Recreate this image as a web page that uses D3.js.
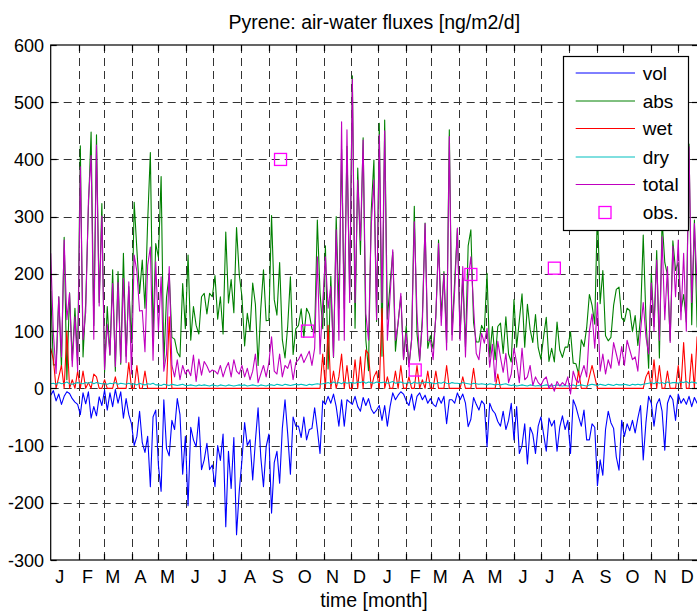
<!DOCTYPE html>
<html>
<head>
<meta charset="utf-8">
<script src="https://cdn.jsdelivr.net/npm/d3@7"></script>
<style>
  body { margin: 0; background: #fff; }
  text { font-family: "Liberation Sans", Arial, Helvetica, sans-serif; fill: #000; }
</style>
</head>
<body>
<svg id="chart" width="697" height="612"></svg>
<script>
// ---- data (one sample every 3 days over two years, starting on day 1) ----
const sampleStep = 3;

const monthLabels = ["J","F","M","A","M","J","J","A","S","O","N","D",
                     "J","F","M","A","M","J","J","A","S","O","N","D"];
const monthStarts = [1,32,60,91,121,152,182,213,244,274,305,335,
                     366,397,425,456,486,517,547,578,609,639,670,700];
const yTicks = [-300,-200,-100,0,100,200,300,400,500,600];

const vol = [
  -12,-4,-22,-10,-28,-14,-6,-9,-18,-24,-28,
  -46,-8,-27,-6,-52,-32,-48,-15,-30,
  -3,-38,-8,-32,-2,-26,-6,-52,-18,-46,
  -62,-100,-84,-40,-95,-112,-84,-172,-50,-38,
  -135,-180,-20,-105,-118,-56,-72,-18,-46,-150,-84,
  -205,-68,-90,-102,-50,-142,-125,-96,-142,-134,
  -172,-100,-126,-80,-242,-110,-175,-86,-256,-180,
  -126,-60,-100,-90,-160,-92,-34,-120,-172,-102,-80,
  -218,-130,-110,-166,-70,-20,-80,-150,-50,-66,
  -66,-86,-50,-90,-72,-70,-34,-72,-114,-22,
  -28,-14,-26,-10,-32,-66,-20,-66,-20,-24,
  -28,-14,-32,-40,-16,-30,-18,-36,-44,-38,
  -30,-56,-30,-66,-32,-8,-20,-12,-6,-10,
  -22,-30,-10,-38,-14,-8,-20,-12,-26,
  -18,-28,-32,-16,-26,-14,-62,-20,-20,-26,
  -8,-20,-10,-26,-67,-54,-16,-28,-38,-22,
  -28,-102,-26,-38,-44,-58,-66,-40,-72,-56,
  -26,-90,-32,-114,-100,-62,-132,-68,-80,-114,
  -66,-50,-80,-110,-52,-66,-56,-110,-68,-48,
  -72,-56,-114,-20,-32,-50,-66,-38,-90,-90,-62,
  -68,-170,-125,-152,-72,-40,-60,-70,-120,-143,
  -56,-84,-62,-74,-56,-78,-52,-30,-125,-60,
  -14,-26,-66,-28,-18,-40,-108,-26,-12,-20,
  -56,-10,-26,-18,-28,-14,-32,-16,-26,-20,-30,-18
];

const abs = [
  170,41,41,160,35,264,15,167,49,140,48,
  424,55,150,315,448,110,443,150,323,
  28,143,58,207,30,204,42,236,56,178,
  80,325,242,166,224,140,291,412,90,253,
  229,370,43,159,201,89,86,63,55,183,104,
  233,84,143,110,95,160,166,130,166,160,
  197,121,160,95,273,149,190,132,281,199,
  161,74,131,100,184,147,40,139,207,118,119,
  302,155,128,220,85,53,109,195,59,104,
  110,139,89,140,130,104,97,294,167,104,
  249,34,196,54,300,140,418,139,423,164,
  546,105,385,234,438,85,31,309,399,117,
  463,56,469,121,182,238,65,116,161,51,
  109,38,86,318,96,48,125,289,70,
  92,69,124,259,127,204,80,452,94,189,
  279,96,193,72,249,277,115,81,81,110,
  100,201,55,108,50,108,114,61,125,60,
  46,155,72,119,165,72,147,103,80,129,
  71,51,90,124,47,70,46,116,67,54,
  72,72,99,44,43,25,85,73,106,164,145,
  112,315,148,206,92,83,89,145,173,177,
  123,117,140,136,99,127,75,124,268,122,
  35,200,108,241,53,295,220,198,83,258,
  206,220,135,164,116,427,111,294,107,129,220,99
];

const wet = [
  70,50,0,20,40,0,100,0,15,0,30,
  0,30,0,10,0,25,20,0,0,
  15,0,0,0,20,0,0,0,0,45,
  0,0,40,0,0,30,0,0,0,0,
  0,0,0,0,125,0,0,0,0,0,0,
  0,0,0,0,0,0,0,0,0,0,
  0,0,0,0,0,0,0,0,0,0,
  0,0,0,0,0,0,0,0,0,0,0,
  0,0,0,0,0,0,0,0,0,0,
  0,0,0,0,0,0,0,0,0,60,
  0,110,0,30,0,20,60,0,40,0,
  0,50,0,55,0,67,60,0,20,30,
  0,140,0,20,0,0,30,0,40,0,
  0,20,0,0,40,0,15,0,30,
  0,0,30,0,0,0,40,0,0,0,
  0,0,20,0,0,0,35,0,0,0,
  0,0,0,0,0,25,0,0,0,0,
  0,0,0,0,0,0,0,0,0,0,
  0,0,0,0,0,0,0,0,0,0,
  0,0,0,0,0,30,0,0,0,20,40,
  20,0,0,0,0,0,0,0,0,0,
  0,0,0,0,0,0,0,0,0,20,
  30,0,50,0,40,0,0,30,0,0,
  0,40,0,80,0,0,60,0,90,0,0,0
];

const dry = [
  8,9,7,10,8,9,11,8,7,9,10,
  9,8,10,9,11,8,10,9,8,
  8,7,9,8,10,7,9,8,7,9,
  7,8,6,9,7,6,8,7,9,6,
  6,5,7,6,5,7,6,5,6,7,5,
  5,6,5,4,6,5,6,5,4,6,
  5,4,6,5,4,6,5,4,5,6,
  5,6,4,5,6,5,4,6,5,4,6,
  6,5,7,6,5,7,6,5,6,7,
  6,7,6,5,7,6,7,8,7,8,
  9,10,8,11,9,10,8,11,9,10,
  10,9,11,10,12,9,11,10,9,11,
  10,10,11,9,10,12,9,10,11,9,
  9,10,8,11,9,10,9,11,10,
  10,9,8,10,9,11,9,8,10,9,
  9,8,10,9,8,7,9,8,7,8,
  7,6,8,7,6,7,6,7,8,6,
  5,6,4,5,6,5,4,6,5,4,
  5,4,5,6,5,4,5,6,5,4,
  5,4,5,6,4,5,6,5,4,6,7,
  6,5,7,6,5,7,6,5,7,6,
  6,7,6,5,7,6,7,6,7,8,
  9,10,8,11,9,10,8,11,9,10,
  10,9,11,10,12,9,11,10,9,11,10,9
];

const total = [
  236,96,26,160,55,259,120,166,38,125,30,
  387,85,133,328,407,86,425,144,301,
  33,112,59,183,38,185,45,192,45,186,
  25,233,204,135,136,64,215,247,49,221,
  100,195,30,60,213,40,20,50,15,40,25,
  33,22,58,12,51,23,47,39,28,32,
  30,25,40,20,35,45,20,50,30,25,
  40,20,35,15,30,60,10,25,40,20,45,
  90,30,25,60,20,40,35,50,15,45,
  50,60,45,55,65,40,70,230,60,150,
  230,140,178,55,277,84,466,84,452,150,
  540,150,364,259,434,131,84,283,364,120,
  443,150,450,84,160,242,84,114,166,50,
  96,38,84,291,131,50,114,288,84,
  84,50,130,253,110,201,67,440,84,172,
  280,84,213,55,190,230,143,61,50,96,
  79,105,37,77,12,82,54,28,61,10,
  25,70,45,10,70,15,20,40,5,20,
  10,5,15,20,0,8,-5,12,4,10,
  5,20,-10,30,15,10,25,40,20,100,130,
  70,150,30,60,25,50,35,80,60,40,
  73,40,84,67,50,55,30,100,150,90,
  60,184,100,224,84,265,120,213,80,248,
  160,259,120,236,100,422,150,288,180,120,200,90
];

// measured fluxes
const obsDay = [257, 287, 407, 469, 562];
const obsValue = [400, 100, 32, 199, 210];

const seriesNames = ["vol","abs","wet","dry","total"];
const seriesColors = ["#0000ff","#008000","#ff0000","#00bfbf","#bf00bf"];
const obsColor = "#ff00ff";

// ---- layout ----
const svg = d3.select("#chart");
const plotLeft = 50.7, plotRight = 698, plotTop = 45, plotBottom = 560;

const x = d3.scaleLinear().domain([1, 722]).range([plotLeft, plotRight]);
const y = d3.scaleLinear().domain([-300, 600]).range([plotBottom, plotTop]);

svg.append("defs").append("clipPath").attr("id", "plotClip")
  .append("rect").attr("x", plotLeft).attr("y", plotTop)
  .attr("width", plotRight - plotLeft).attr("height", plotBottom - plotTop);

// grid
const grid = svg.append("g").attr("stroke", "#333").attr("stroke-width", 1)
  .attr("stroke-dasharray", "8,5").attr("fill", "none");
grid.selectAll("line.h").data(yTicks.filter(v => v > -300 && v < 600)).join("line")
  .attr("class", "h")
  .attr("x1", plotLeft).attr("x2", plotRight)
  .attr("y1", d => Math.round(y(d)) + 0.5).attr("y2", d => Math.round(y(d)) + 0.5);
grid.selectAll("line.v").data(monthStarts.filter(d => d > 1)).join("line")
  .attr("class", "v")
  .attr("y1", plotTop).attr("y2", plotBottom)
  .attr("x1", d => Math.round(x(d)) + 0.5).attr("x2", d => Math.round(x(d)) + 0.5);

// series
const plot = svg.append("g").attr("clip-path", "url(#plotClip)");
const seriesData = [vol, abs, wet, dry, total];
const line = d3.line().x((d, i) => x(1 + i * sampleStep)).y(d => y(d));
seriesData.forEach((arr, k) => {
  plot.append("path").datum(arr)
    .attr("d", line)
    .attr("fill", "none")
    .attr("stroke", seriesColors[k])
    .attr("stroke-width", 1.1)
    .attr("stroke-linejoin", "round");
});

// observations
const sq = 12;
plot.selectAll("rect.obs").data(obsDay).join("rect")
  .attr("class", "obs")
  .attr("x", d => x(d) - sq / 2)
  .attr("y", (d, i) => y(obsValue[i]) - sq / 2)
  .attr("width", sq).attr("height", sq)
  .attr("fill", "none").attr("stroke", obsColor).attr("stroke-width", 1.3);

// axes box and ticks
const axisG = svg.append("g").attr("stroke", "#000").attr("stroke-width", 1.2).attr("fill", "none");
axisG.append("rect").attr("x", plotLeft).attr("y", plotTop)
  .attr("width", plotRight - plotLeft).attr("height", plotBottom - plotTop);
const tl = 6;
monthStarts.filter(d => d > 1).forEach(d => {
  const xp = Math.round(x(d)) + 0.5;
  axisG.append("line").attr("x1", xp).attr("x2", xp).attr("y1", plotBottom).attr("y2", plotBottom - tl);
  axisG.append("line").attr("x1", xp).attr("x2", xp).attr("y1", plotTop).attr("y2", plotTop + tl);
});
yTicks.forEach(v => {
  const yp = Math.round(y(v)) + 0.5;
  axisG.append("line").attr("x1", plotLeft).attr("x2", plotLeft + tl).attr("y1", yp).attr("y2", yp);
  axisG.append("line").attr("x1", plotRight).attr("x2", plotRight - tl).attr("y1", yp).attr("y2", yp);
});

// tick labels
svg.append("g").selectAll("text").data(yTicks).join("text")
  .attr("x", 44).attr("y", d => y(d) + 6.5)
  .attr("text-anchor", "end").attr("font-size", 18)
  .text(d => d);
svg.append("g").selectAll("text").data(monthLabels).join("text")
  .attr("x", (d, i) => x(monthStarts[i] + 10)).attr("y", 582.7)
  .attr("text-anchor", "middle").attr("font-size", 18)
  .text(d => d);

// title and axis label
svg.append("text").attr("x", 374.3).attr("y", 29.3).attr("text-anchor", "middle")
  .attr("font-size", 19.5).text("Pyrene: air-water fluxes [ng/m2/d]");
svg.append("text").attr("x", 374).attr("y", 607).attr("text-anchor", "middle")
  .attr("font-size", 19.5).text("time [month]");

// legend
const lg = svg.append("g");
lg.append("rect").attr("x", 563.5).attr("y", 56.5).attr("width", 125).attr("height", 174)
  .attr("fill", "#fff").attr("stroke", "#000").attr("stroke-width", 1.2);
const legendY = [73, 101, 128.5, 157, 184.5, 212.5];
seriesNames.forEach((name, k) => {
  lg.append("line").attr("x1", 575.7).attr("x2", 635)
    .attr("y1", legendY[k]).attr("y2", legendY[k])
    .attr("stroke", seriesColors[k]).attr("stroke-width", 1);
  lg.append("text").attr("x", 642.7).attr("y", legendY[k] + 6.8)
    .attr("font-size", 19).text(name);
});
lg.append("rect").attr("x", 605 - sq / 2).attr("y", legendY[5] - sq / 2)
  .attr("width", sq).attr("height", sq)
  .attr("fill", "none").attr("stroke", obsColor).attr("stroke-width", 1.3);
lg.append("text").attr("x", 642.7).attr("y", legendY[5] + 6.8)
  .attr("font-size", 19).text("obs.");
</script>
</body>
</html>
